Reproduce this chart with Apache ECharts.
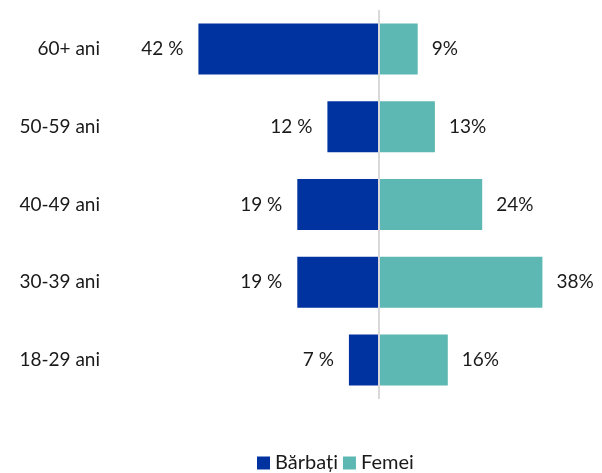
<!DOCTYPE html>
<html>
<head>
<meta charset="utf-8">
<script src="https://cdn.jsdelivr.net/npm/echarts@6/dist/echarts.min.js"></script>
<style>
  html, body { margin: 0; padding: 0; background: #fff; }
  #chart { width: 602px; height: 473px; }
</style>
</head>
<body>
<div id="chart"></div>
<script>
// categories from bottom to top
const categories = ['18-29 ani', '30-39 ani', '40-49 ani', '50-59 ani', '60+ ani'];
const barbati = [7, 19, 19, 12, 42];
const femei = [16, 38, 24, 13, 9];

const chart = echarts.init(document.getElementById('chart'));
const font = 'Lato, "Open Sans", sans-serif';

const option = {
  animation: false,
  textStyle: { fontFamily: font },
  legend: {
    top: 448,
    left: 252,
    itemWidth: 13,
    itemHeight: 13,
    itemGap: 5,
    icon: 'rect',
    textStyle: { fontSize: 20, color: '#1a1a1a', fontFamily: font },
    data: ['Bărbați', 'Femei']
  },
  grid: { left: 121, right: 8, top: 10, bottom: 74 },
  xAxis: {
    type: 'value',
    min: -60,
    max: 50,
    show: false
  },
  yAxis: {
    type: 'category',
    data: categories,
    axisLine: { show: false, onZero: false },
    axisTick: { show: false },
    axisLabel: { margin: 21, fontSize: 19, color: '#1a1a1a', fontFamily: font }
  },
  series: [
    {
      name: 'Bărbați',
      type: 'bar',
      stack: 'all',
      barWidth: 51,
      data: barbati.map(v => -v),
      itemStyle: { color: '#0033A0' },
      label: {
        show: true,
        position: 'left',
        distance: 15,
        fontSize: 19,
        color: '#1a1a1a',
        fontFamily: font,
        formatter: p => Math.abs(p.value) + ' %'
      },
      markLine: {
        silent: true,
        symbol: 'none',
        label: { show: false },
        lineStyle: { color: '#d9d9d9', width: 2, type: 'solid' },
        data: [{ xAxis: 0 }]
      }
    },
    {
      name: 'Femei',
      type: 'bar',
      stack: 'all',
      barWidth: 51,
      data: femei,
      itemStyle: { color: '#5DB8B3' },
      label: {
        show: true,
        position: 'right',
        distance: 14,
        fontSize: 19,
        color: '#1a1a1a',
        fontFamily: font,
        formatter: p => p.value + '%'
      }
    }
  ]
};

option && chart.setOption(option);
</script>
</body>
</html>
